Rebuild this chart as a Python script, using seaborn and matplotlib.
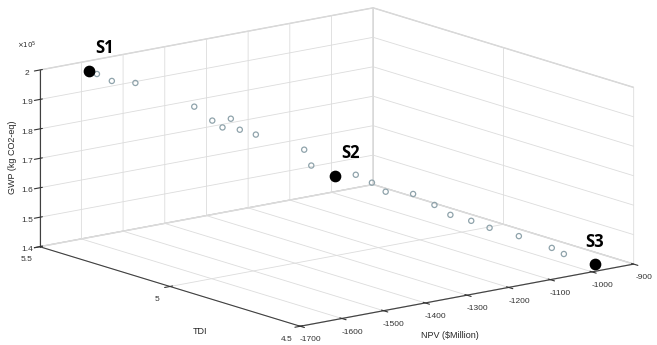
import numpy as np
import pandas as pd
import seaborn as sns
import matplotlib.pyplot as plt
from matplotlib.ticker import FuncFormatter

# Pareto solutions (NPV in $Million, GWP in kg CO2-eq)
npv = [-1595, -1594, -1577, -1533, -1423, -1411, -1399, -1354, -1370, -1344,
       -1278, -1286, -1253, -1223, -1203, -1195, -1148, -1128, -1121, -1096,
       -1077, -1038, -1009, -1005, -974]
tdi = [5.48, 5.45, 5.42, 5.40, 5.35, 5.30, 5.28, 5.32, 5.26, 5.24,
       5.16, 5.12, 5.08, 5.05, 5.02, 4.98, 4.95, 4.90, 4.85, 4.81,
       4.77, 4.72, 4.64, 4.60, 4.53]
gwp = [197400, 197200, 195200, 193900, 184300, 180600, 178500, 179200, 177500, 175700,
       171000, 166900, 163600, 164000, 161600, 159400, 158200, 155300, 153100, 151500,
       149700, 147200, 144600, 143500, 141200]

# highlighted solutions
sel_names = ['S1', 'S2', 'S3']
sel_npv = [-1595, -1253, -974]
sel_tdi = [5.48, 5.08, 4.53]
sel_gwp = [197400, 163600, 141200]

npv_ticks = [-1700, -1600, -1500, -1400, -1300, -1200, -1100, -1000, -900]
tdi_ticks = [4.5, 5, 5.5]
gwp_ticks = [140000, 150000, 160000, 170000, 180000, 190000, 200000]

df = pd.DataFrame({'NPV': npv, 'TDI': tdi, 'GWP': gwp})

sns.set_style('white')
plt.rcParams['font.family'] = ['Liberation Sans', 'DejaVu Sans']
plt.rcParams['axes.unicode_minus'] = False

fig = plt.figure(figsize=(6.57, 3.45), dpi=100)
ax = fig.add_axes([-0.2975, -0.388, 1.595, 1.76], projection='3d', proj_type='ortho')
ax.set_box_aspect((1, 1, 0.43))
ax.view_init(elev=13.8, azim=-128)

edge_col = '#8fa3ab'
pts = ax.scatter(df['NPV'], df['TDI'], df['GWP'], s=14, facecolors='none',
                 edgecolors=edge_col, linewidths=0.9, depthshade=False)
sel = ax.scatter(sel_npv, sel_tdi, sel_gwp, s=55, c='black', depthshade=False)
pts.set_clip_on(False)
sel.set_clip_on(False)
label_dx = [15, 15, 0]
for name, x, y, z, dx in zip(sel_names, sel_npv, sel_tdi, sel_gwp, label_dx):
    ax.text(x + dx, y, z + 4300, name, fontsize=12, fontweight='bold',
            family=['Open Sans', 'DejaVu Sans'],
            ha='left' if dx else 'center', va='bottom', color='black')

ax.set_xlim(-1700, -900)
ax.set_ylim(4.5, 5.5)
ax.set_zlim(140000, 200000)
ax.set_xticks(npv_ticks)
ax.set_yticks(tdi_ticks)
ax.set_zticks(gwp_ticks)
ax.zaxis.set_major_formatter(FuncFormatter(lambda v, p: f'{v / 1e5:g}'))
ax.yaxis.set_major_formatter(FuncFormatter(lambda v, p: f'{v:g}'))

for axis in (ax.xaxis, ax.yaxis, ax.zaxis):
    axis.set_pane_color((1, 1, 1, 1))
    axis.pane.set_edgecolor('#d0d0d0')
    axis._axinfo['grid']['color'] = '#dcdcdc'
    axis._axinfo['grid']['linewidth'] = 0.6
    axis.line.set_color('#404040')
    axis.line.set_linewidth(0.8)
    axis.offsetText.set_visible(False)
    axis.label.set_visible(False)
ax.tick_params(labelsize=6, colors='#333333', pad=1)
ax.zaxis.set_tick_params(pad=-3.2)

# axis titles placed like the original (horizontal, below the axes)
fig.text(450 / 657, 1 - 335 / 345, 'NPV ($Million)', fontsize=6.5, ha='center', va='center')
fig.text(200 / 657, 1 - 332 / 345, 'TDI', fontsize=6.5, ha='center', va='center')
fig.text(13 / 657, 1 - 157 / 345, 'GWP (kg CO2-eq)', fontsize=6.5, rotation=90,
         ha='center', va='center')
fig.text(27 / 657, 1 - 45 / 345, r'$\times10^5$', fontsize=5, ha='center', va='center')

fig.savefig('out.png', dpi=100)
